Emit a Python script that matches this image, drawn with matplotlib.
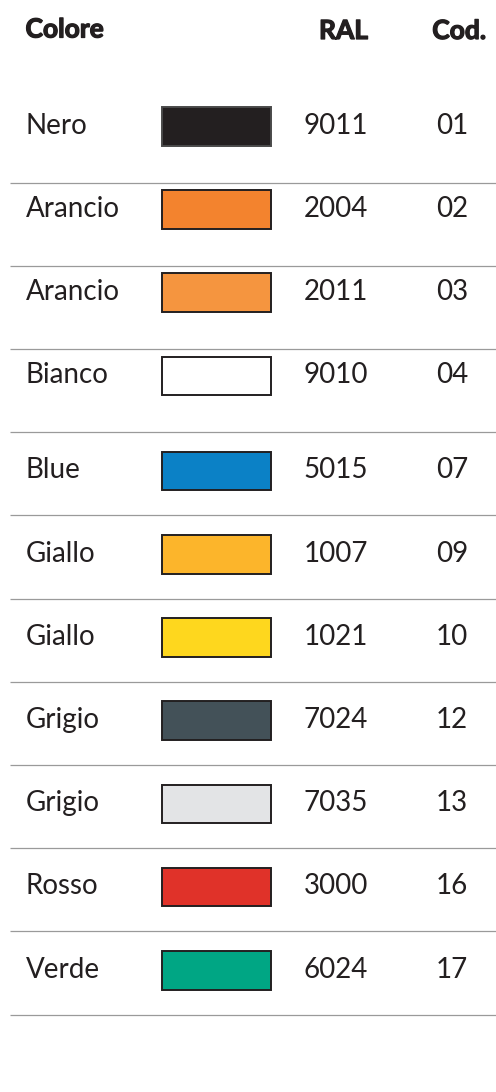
import matplotlib.pyplot as plt
import matplotlib.patheffects as pe
from matplotlib.patches import Rectangle

plt.rcParams["font.family"] = ["Lato", "DejaVu Sans"]

names = ["Nero", "Arancio", "Arancio", "Bianco", "Blue", "Giallo",
         "Giallo", "Grigio", "Grigio", "Rosso", "Verde"]
ral = ["9011", "2004", "2011", "9010", "5015", "1007",
       "1021", "7024", "7035", "3000", "6024"]
codes = ["01", "02", "03", "04", "07", "09", "10", "12", "13", "16", "17"]
swatches = ["#231f20", "#f3832e", "#f5953f", "#ffffff", "#0b81c6", "#fcb52b",
            "#fed71e", "#435158", "#e3e4e6", "#e03229", "#00a684"]

text_col = "#231f20"

fig = plt.figure(figsize=(4.96, 10.92), dpi=100)
ax = fig.add_axes([0, 0, 1, 1])
ax.set_xlim(0, 496)
ax.set_ylim(1092, 0)
ax.axis("off")

# header, a little heavier than plain bold
heavy = [pe.withStroke(linewidth=0.9, foreground=text_col)]
ax.text(25.5, 37.5, "Colore", fontsize=19, fontweight="bold", color=text_col,
        ha="left", va="baseline", path_effects=heavy)
ax.text(368, 39, "RAL", fontsize=19, fontweight="bold", color=text_col,
        ha="right", va="baseline", path_effects=heavy)
ax.text(486, 39, "Cod.", fontsize=19, fontweight="bold", color=text_col,
        ha="right", va="baseline", path_effects=heavy)

first = 126.3
step = 83.2
for i, (n, r, c, col) in enumerate(zip(names, ral, codes, swatches)):
    # the rows after "Bianco" sit a bit lower inside their band
    y = first + i * step + (11.9 if i >= 4 else 0)
    base = y + 7.4
    ax.text(25.5, base, n, fontsize=20, color=text_col, ha="left", va="baseline")
    ax.text(368, base, r, fontsize=20, color=text_col, ha="right", va="baseline")
    ax.text(452, base, c, fontsize=20, color=text_col, ha="center", va="baseline")
    edge = "#4a4a4a" if i == 0 else "#231f20"
    ax.add_patch(Rectangle((162, y - 19.3), 109, 38.6, facecolor=col,
                           edgecolor=edge, linewidth=1.4))
    sep = 182.6 + i * step
    ax.plot([10, 496], [sep, sep], color="#9a9a9a", linewidth=0.9,
            solid_capstyle="butt")

fig.savefig("out.png", dpi=100)
